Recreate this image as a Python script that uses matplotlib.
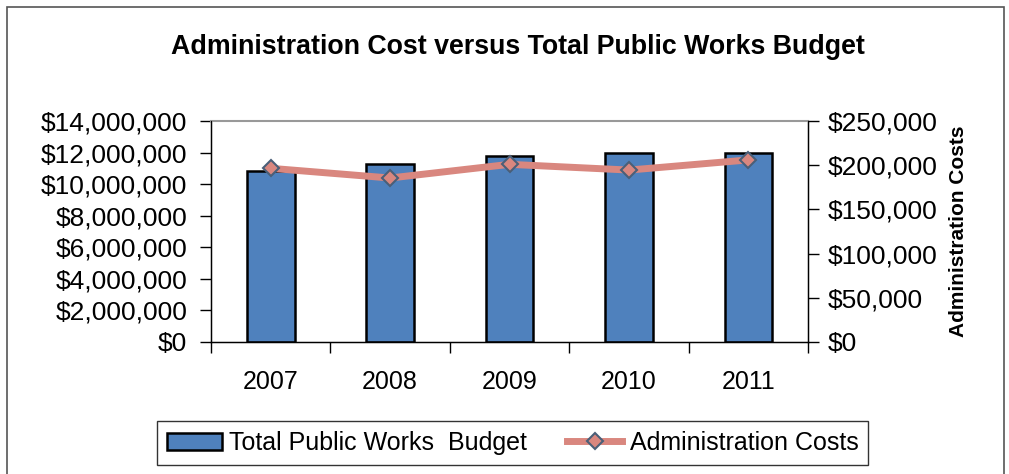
import matplotlib
matplotlib.use("Agg")
import matplotlib.pyplot as plt
from matplotlib.ticker import FuncFormatter, FixedLocator
from matplotlib.patches import Rectangle

plt.rcParams['font.family'] = ['Liberation Sans', 'DejaVu Sans']

years = ['2007', '2008', '2009', '2010', '2011']
budget = [10850000, 11300000, 11800000, 11950000, 11950000]
admin_costs = [196500, 185500, 201000, 194500, 206000]

bar_color = '#4F81BD'
line_color = '#D9877F'


def dollar(v, pos):
    return f'${v:,.0f}'


fig = plt.figure(figsize=(10.09, 4.74), dpi=100)
ax = fig.add_axes([0.209, 0.2785, 0.592, 0.4662])

# frame round the whole chart
fig.patches.append(Rectangle((0.007, -0.05), 0.988, 1.035, transform=fig.transFigure,
                             fill=False, edgecolor='#555555', linewidth=1.2))

x = list(range(len(years)))
bars = ax.bar(x, budget, width=0.4, color=bar_color, edgecolor='black', linewidth=1.8,
              label='Total Public Works  Budget', zorder=2)
ax.set_xlim(-0.5, len(years) - 0.5)
ax.set_ylim(0, 14000000)
ax.set_yticks(range(0, 14000001, 2000000))
ax.yaxis.set_major_formatter(FuncFormatter(dollar))
ax.set_xticks(x)
ax.set_xticklabels(years)
ax.xaxis.set_minor_locator(FixedLocator([i - 0.5 for i in range(len(years) + 1)]))
ax.tick_params(axis='x', which='major', length=0, pad=20, labelsize=18)
ax.tick_params(axis='x', which='minor', length=8, width=1, direction='out')
ax.tick_params(axis='y', length=8, width=1, direction='out', labelsize=19, pad=9)
for s in ['left', 'bottom', 'right']:
    ax.spines[s].set_color('black')
    ax.spines[s].set_linewidth(1)
ax.spines['top'].set_color('#999999')
ax.spines['top'].set_linewidth(1.5)

ax2 = ax.twinx()
line, = ax2.plot(x, admin_costs, color=line_color, linewidth=5, marker='D', markersize=8,
                 markerfacecolor=line_color, markeredgecolor='#4A5F78', markeredgewidth=1.5,
                 label='Administration Costs', zorder=3)
ax2.set_ylim(0, 250000)
ax2.set_yticks(range(0, 250001, 50000))
ax2.yaxis.set_major_formatter(FuncFormatter(dollar))
ax2.tick_params(axis='y', length=8, width=1, direction='out', labelsize=19, pad=6)
ax2.set_ylabel('Administration Costs', fontsize=15, fontweight='bold')
ax2.yaxis.set_label_coords(1.236, 0.5)
ax2.spines['top'].set_visible(False)

fig.text(0.513, 0.901, 'Administration Cost versus Total Public Works Budget',
         ha='center', va='center', fontsize=19.3, fontweight='bold')

leg = fig.legend([bars, line], ['Total Public Works  Budget', 'Administration Costs'],
                 loc='center', bbox_to_anchor=(0.508, 0.065), ncol=2, fontsize=18,
                 frameon=True, fancybox=False, edgecolor='black', handlelength=2.2,
                 columnspacing=1.6, handletextpad=0.3, borderpad=0.4)
leg.get_frame().set_linewidth(1)

fig.savefig('out.png', dpi=100)
